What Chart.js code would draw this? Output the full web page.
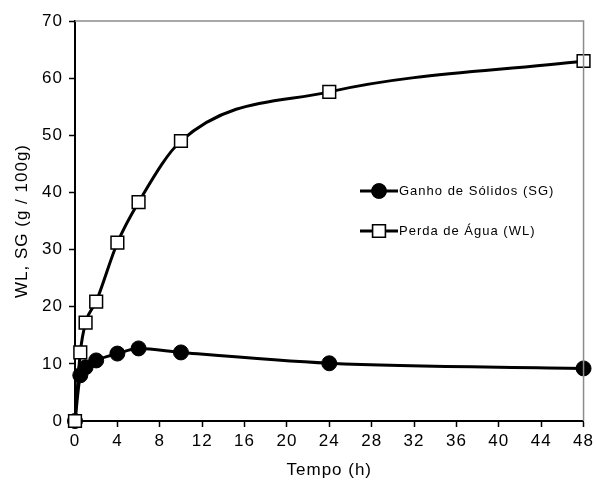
<!DOCTYPE html>
<html>
<head>
<meta charset="utf-8">
<script src="https://cdn.jsdelivr.net/npm/chart.js@4"></script>
<style>
  html, body { margin: 0; padding: 0; background: #fff; }
  #wrap { width: 597px; height: 485px; }
</style>
</head>
<body>
<div id="wrap"><canvas id="chart" width="597" height="485"></canvas></div>
<script>
const tempo = [0, 0.5, 1, 2, 4, 6, 10, 24, 48];
const ganhoSolidos = [0, 8.0, 9.4, 10.6, 11.8, 12.7, 12.0, 10.1, 9.2];
const perdaAgua = [0, 12.0, 17.2, 20.9, 31.2, 38.3, 49.0, 57.6, 63.0];
const xTicks = [0, 4, 8, 12, 16, 20, 24, 28, 32, 36, 40, 44, 48];
const yTicks = [0, 10, 20, 30, 40, 50, 60, 70];
const seriesNames = ['Ganho de Sólidos (SG)', 'Perda de Água (WL)'];

const FONT = '"Liberation Sans", Arial, sans-serif';

function toPoints(ys) {
    return tempo.map((t, i) => ({ x: t, y: ys[i] }));
}

// Letter spacing to mimic the wide text of the original
const spacingPlugin = {
    id: 'spacing',
    beforeDraw(chart) {
        chart.ctx.letterSpacing = '1px';
    }
};

// Gray top/right frame and the in-plot legend
const framePlugin = {
    id: 'frame',
    afterDatasetsDraw(chart) {
        const { ctx, chartArea: a } = chart;
        ctx.save();
        ctx.strokeStyle = '#8c8c8c';
        ctx.lineWidth = 1.5;
        ctx.beginPath();
        ctx.moveTo(a.left, a.top);
        ctx.lineTo(a.right, a.top);
        ctx.lineTo(a.right, a.bottom);
        ctx.stroke();

        // legend
        const rows = [
            { y: 191, style: 'circle', fill: '#000', r: 7 },
            { y: 231, style: 'rect', fill: '#fff', r: 9 }
        ];
        rows.forEach((row, i) => {
            ctx.strokeStyle = '#000';
            ctx.lineWidth = 3;
            ctx.beginPath();
            ctx.moveTo(360, row.y);
            ctx.lineTo(398, row.y);
            ctx.stroke();
            ctx.fillStyle = row.fill;
            ctx.lineWidth = 1.5;
            Chart.helpers.drawPoint(ctx, { pointStyle: row.style, radius: row.r, borderWidth: 1.5 }, 379, row.y);
            ctx.fill();
            ctx.stroke();
            ctx.fillStyle = '#000';
            ctx.font = '13px ' + FONT;
            ctx.letterSpacing = '1px';
            ctx.textBaseline = 'middle';
            ctx.textAlign = 'left';
            ctx.fillText(seriesNames[i], 399, row.y);
        });
        ctx.restore();
    }
};

new Chart(document.getElementById('chart'), {
    type: 'line',
    data: {
        datasets: [
            {
                label: seriesNames[1],
                data: toPoints(perdaAgua),
                borderColor: '#000',
                borderWidth: 3,
                pointStyle: 'rect',
                pointRadius: 9,
                pointBackgroundColor: '#fff',
                pointBorderColor: '#000',
                pointBorderWidth: 1.5,
                cubicInterpolationMode: 'monotone',
                clip: false,
                order: 0
            },
            {
                label: seriesNames[0],
                data: toPoints(ganhoSolidos),
                borderColor: '#000',
                borderWidth: 3,
                pointStyle: 'circle',
                pointRadius: 7.5,
                pointBackgroundColor: '#000',
                pointBorderColor: '#000',
                pointBorderWidth: 1,
                cubicInterpolationMode: 'monotone',
                clip: false,
                order: 1
            }
        ]
    },
    options: {
        responsive: false,
        animation: false,
        layout: { padding: { left: 0, top: 21, right: 13, bottom: 0 } },
        plugins: {
            legend: { display: false },
            tooltip: { enabled: false }
        },
        scales: {
            x: {
                type: 'linear',
                min: 0,
                max: 48,
                afterBuildTicks: axis => { axis.ticks = xTicks.map(v => ({ value: v })); },
                ticks: { color: '#000', font: { family: FONT, size: 17 }, padding: 4, maxRotation: 0 },
                grid: { drawOnChartArea: false, color: '#000', tickLength: 6, tickWidth: 1.5 },
                border: { color: '#000', width: 2 },
                title: { display: true, text: 'Tempo (h)', color: '#000', font: { family: FONT, size: 17 }, padding: { top: 5 } },
                afterFit: axis => { axis.height = 64; }
            },
            y: {
                min: 0,
                max: 70,
                afterBuildTicks: axis => { axis.ticks = yTicks.map(v => ({ value: v })); },
                ticks: { color: '#000', font: { family: FONT, size: 17 }, padding: 6 },
                grid: { drawOnChartArea: false, color: '#000', tickLength: 6, tickWidth: 1.5 },
                border: { color: '#000', width: 2 },
                title: { display: true, text: 'WL, SG (g / 100g)', color: '#000', font: { family: FONT, size: 17 }, padding: { top: 12, bottom: 4 } },
                afterFit: axis => { axis.width = 75; }
            }
        }
    },
    plugins: [spacingPlugin, framePlugin]
});
</script>
</body>
</html>
